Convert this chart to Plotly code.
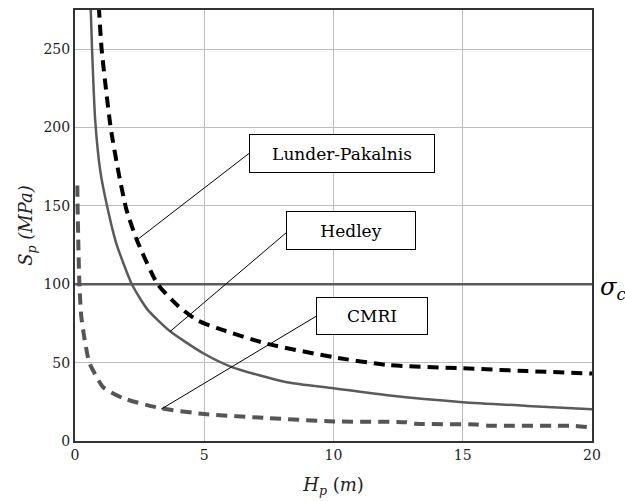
import plotly.graph_objects as go

# Hedley (solid gray)
hed_h = [0.55, 0.62, 0.66, 0.78, 0.98, 1.24, 1.6, 2.2, 2.8, 3.68, 4.96, 6.1, 8.2, 10.0, 12.1, 15.0, 17.5, 20.0]
hed_s = [300, 270, 250, 205, 172, 150, 126, 100, 84, 70, 56, 47, 37.5, 33.7, 29.2, 24.8, 22.4, 20.3]

# Lunder-Pakalnis (black dashed)
lp_h = [0.83, 0.93, 1.03, 1.38, 1.7, 2.0, 2.4, 3.2, 4.0, 4.73, 5.5, 7.44, 10.0, 12.1, 15.0, 17.5, 20.0]
lp_s = [300, 275, 250, 200, 170, 147, 128, 100, 86, 77, 72, 62, 53.5, 48.5, 46.4, 44.6, 43.0]

# CMRI (gray dashed)
cm_h = [0.09, 0.1, 0.13, 0.17, 0.24, 0.35, 0.55, 0.7, 1.09, 1.86, 3.3, 5.0, 7.5, 10.0, 12.8, 13.2, 15.5, 16.0, 19.3, 20.0]
cm_s = [163, 150, 125, 100, 80, 67, 50, 45, 34.3, 27.3, 21.0, 17.2, 14.6, 12.5, 12.0, 11.0, 10.6, 9.8, 9.6, 8.5]

# compressive strength line
sigma_c = 100
x_range = [0, 20]
y_range = [0, 275]
x_ticks = [0, 5, 10, 15, 20]
y_ticks = [0, 50, 100, 150, 200, 250]

# callouts: label, box center (x, y), box size px, line start, line end
callouts = [
    ("Lunder-Pakalnis", 10.33, 183.6, 184, 37, 6.74, 183.6, 2.40, 128.3),
    ("Hedley", 10.68, 134.0, 128, 37, 8.18, 133.0, 3.68, 69.9),
    ("CMRI", 11.49, 79.7, 110, 36, 9.34, 79.7, 3.33, 20.3),
]

FONT = "DejaVu Serif"

fig = go.Figure()
fig.add_trace(go.Scatter(x=x_range, y=[sigma_c, sigma_c], mode="lines",
                         line=dict(color="#5a5a5a", width=2.5), showlegend=False))
fig.add_trace(go.Scatter(x=hed_h, y=hed_s, mode="lines",
                         line=dict(color="#5a5a5a", width=2.5, shape="spline", smoothing=0.6),
                         showlegend=False))
fig.add_trace(go.Scatter(x=lp_h, y=lp_s, mode="lines",
                         line=dict(color="#000000", width=4, dash="11px,7px", shape="spline", smoothing=0.6),
                         showlegend=False))
fig.add_trace(go.Scatter(x=cm_h, y=cm_s, mode="lines",
                         line=dict(color="#555555", width=4, dash="11px,7px", shape="spline", smoothing=0.6),
                         showlegend=False))

for (label, cx, cy, w, h, x0, y0, x1, y1) in callouts:
    fig.add_shape(type="line", x0=x0, y0=y0, x1=x1, y1=y1, xref="x", yref="y",
                  line=dict(color="black", width=1))
    fig.add_annotation(x=cx, y=cy, xref="x", yref="y", text=label, showarrow=False,
                       width=w, height=h, borderpad=0, bgcolor="white",
                       bordercolor="black", borderwidth=1,
                       font=dict(family=FONT, size=17, color="black"))

fig.add_annotation(x=1.012, y=97, xref="paper", yref="y", xanchor="left", yanchor="middle",
                   text="<i>σ<sub>c</sub></i>", showarrow=False,
                   font=dict(family=FONT, size=24, color="black"))

fig.update_layout(
    width=625, height=501,
    margin=dict(l=75, r=33, t=8, b=60),
    paper_bgcolor="white", plot_bgcolor="white",
    font=dict(family=FONT, size=14, color="#222"),
    showlegend=False,
)
fig.update_xaxes(range=x_range, tickvals=x_ticks, showgrid=True, gridcolor="#bdbdbd", gridwidth=1,
                 showline=True, linecolor="#333", linewidth=2, mirror=True, zeroline=False,
                 ticks="", tickfont=dict(family=FONT, size=14),
                 title=dict(text="<i>H<sub>p</sub></i> (<i>m</i>)", font=dict(family=FONT, size=18), standoff=17))
fig.update_yaxes(range=y_range, tickvals=y_ticks, showgrid=True, gridcolor="#bdbdbd", gridwidth=1,
                 showline=True, linecolor="#333", linewidth=2, mirror=True, zeroline=False,
                 ticks="", tickfont=dict(family=FONT, size=14),
                 title=dict(text="<i>S<sub>p</sub></i> <i>(MPa)</i>", font=dict(family=FONT, size=18), standoff=6))

fig.write_html("out.html")
